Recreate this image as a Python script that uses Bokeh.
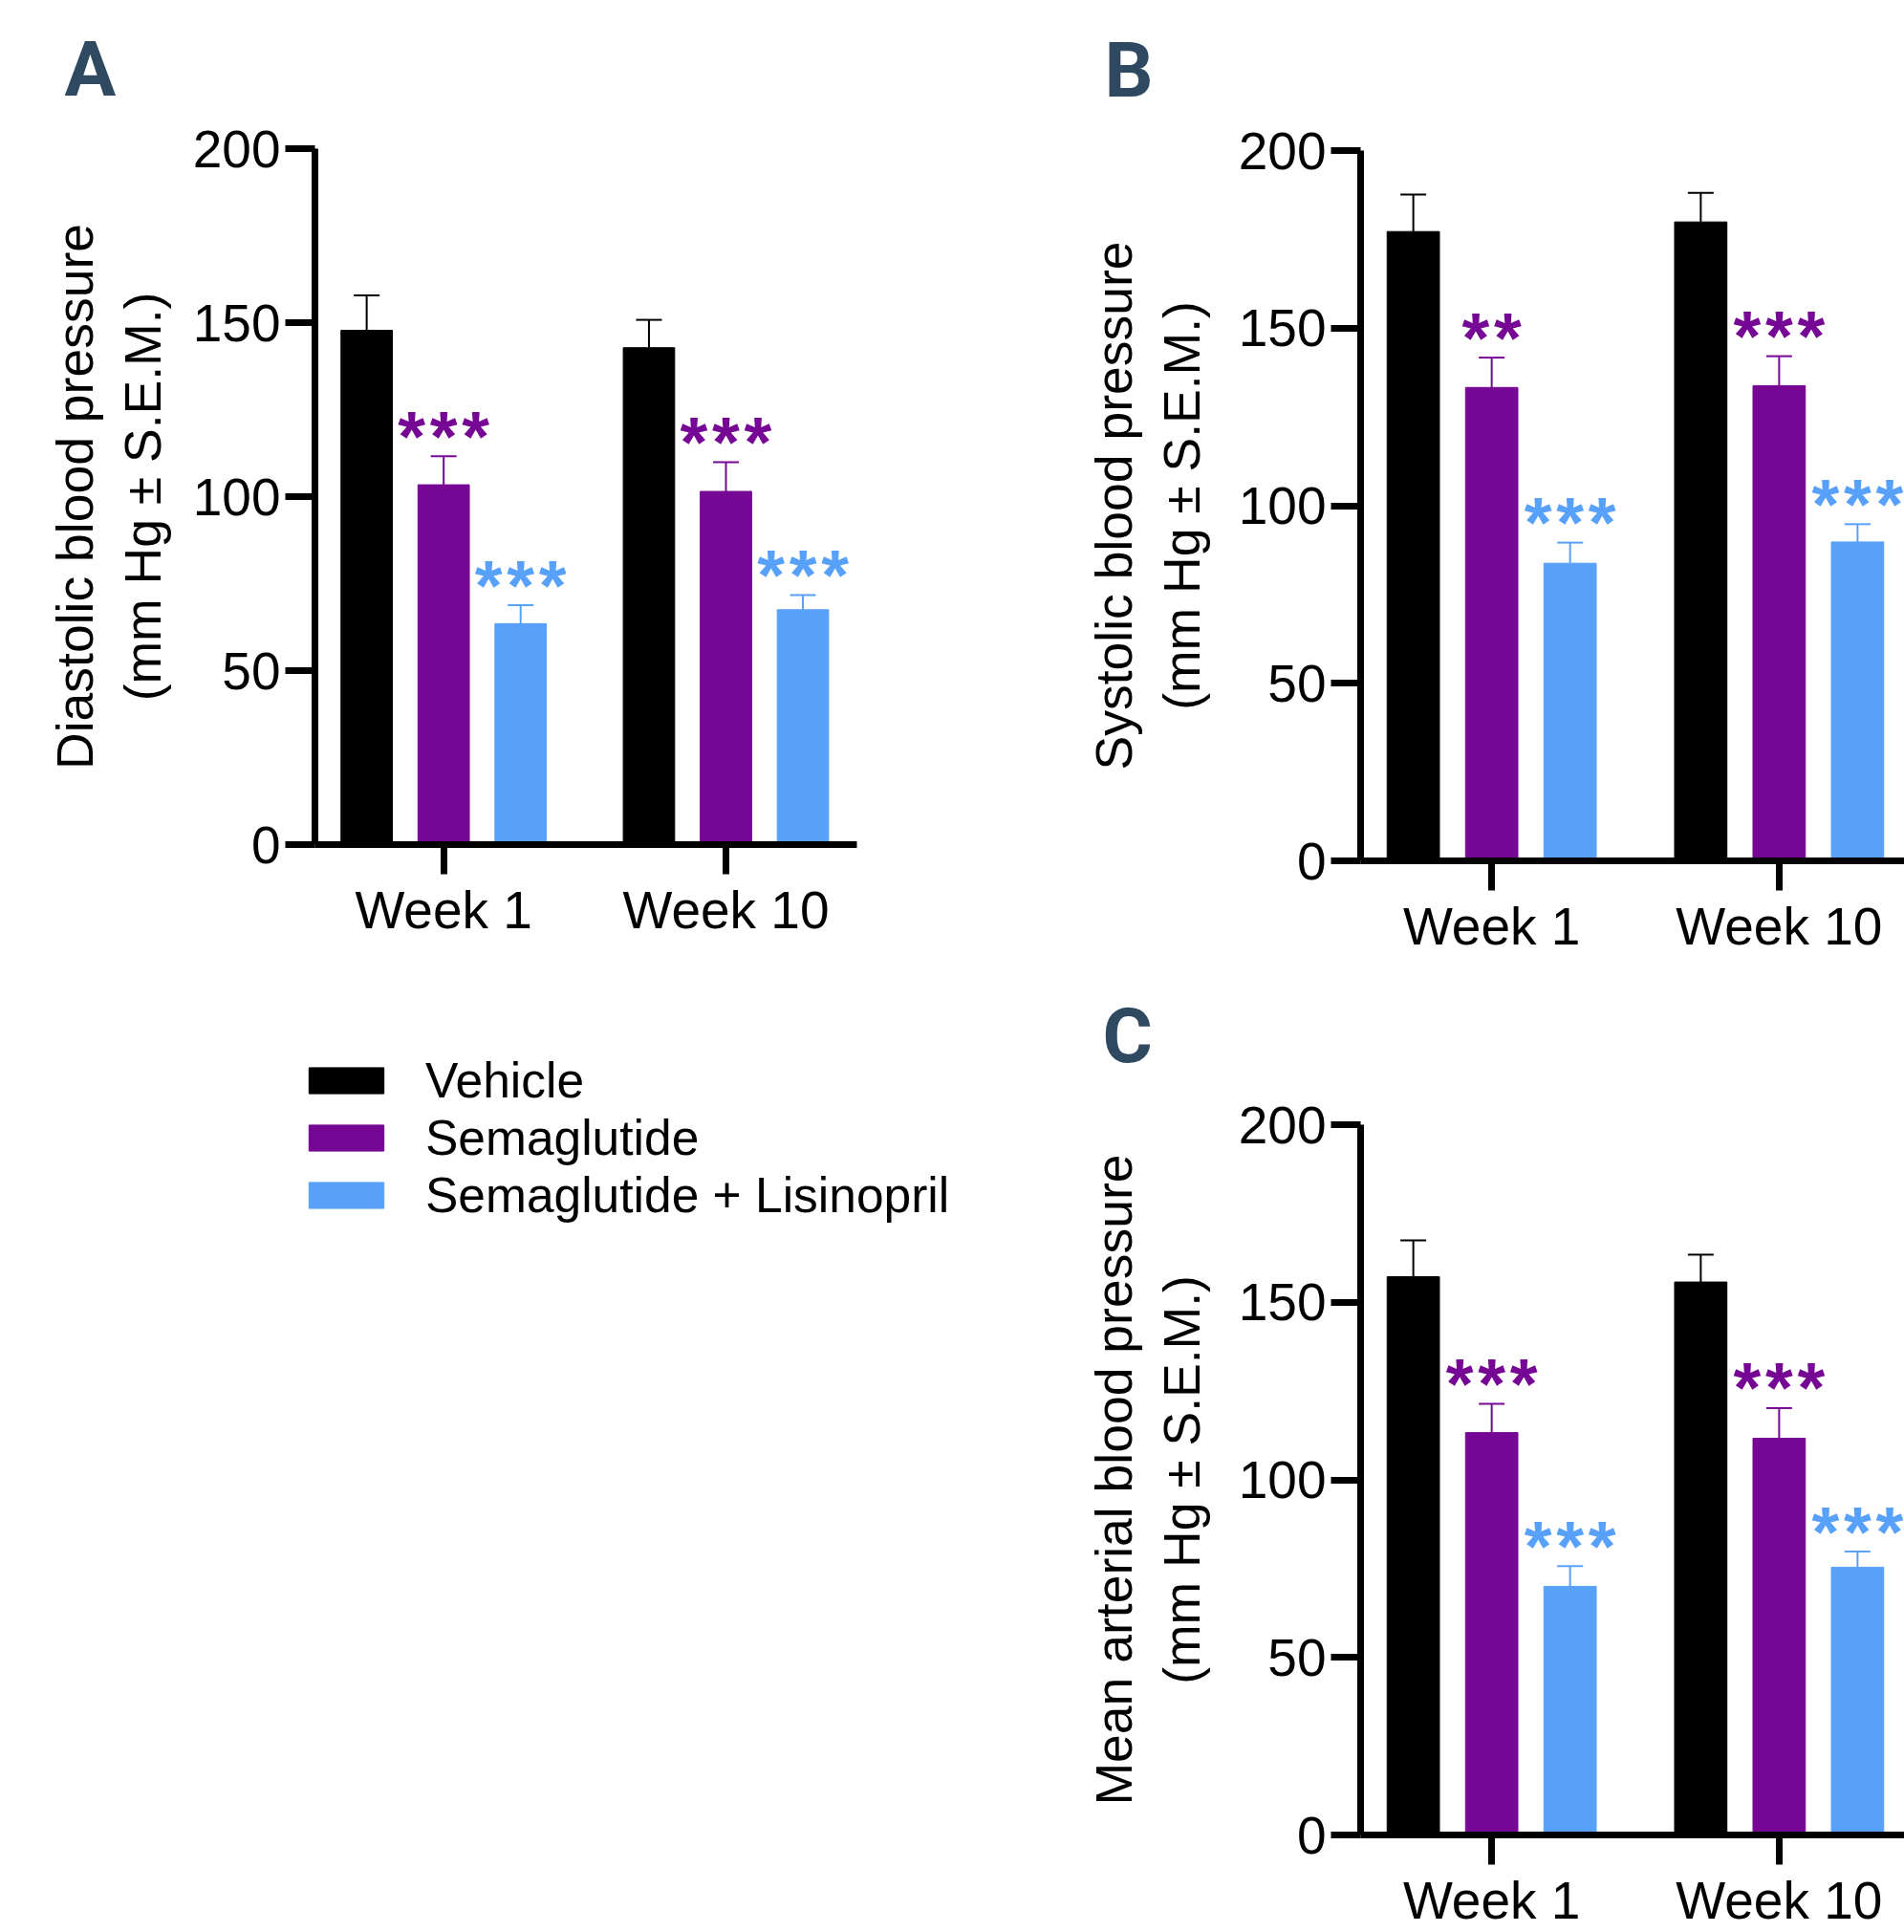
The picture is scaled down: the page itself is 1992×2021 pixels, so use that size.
from bokeh.plotting import figure
from bokeh.models import (Range1d, FixedTicker, ColumnDataSource, Whisker, TeeHead,
                          Label, Legend, LegendItem)
from bokeh.layouts import row, column
from bokeh.embed import file_html
from bokeh.resources import INLINE
from bokeh.core.properties import value

# ---------------- data ----------------
weeks = ["Week 1", "Week 10"]
groups = ["Vehicle", "Semaglutide", "Semaglutide + Lisinopril"]
colors = ["#000000", "#760795", "#58A1FB"]
y_ticks = [0, 50, 100, 150, 200]

# A: diastolic
dia_vehicle = [147.8, 142.8]
dia_vehicle_sem = [10.0, 8.0]
dia_sema = [103.4, 101.5]
dia_sema_sem = [8.2, 8.4]
dia_lisi = [63.5, 67.5]
dia_lisi_sem = [5.3, 4.2]
dia_sema_stars = ["***", "***"]
dia_lisi_stars = ["***", "***"]

# B: systolic
sys_vehicle = [177.2, 179.9]
sys_vehicle_sem = [10.4, 8.2]
sys_sema = [133.3, 133.8]
sys_sema_sem = [8.4, 8.3]
sys_lisi = [83.8, 89.8]
sys_lisi_sem = [5.8, 5.0]
sys_sema_stars = ["**", "***"]
sys_lisi_stars = ["***", "***"]

# C: mean arterial
map_vehicle = [157.2, 155.7]
map_vehicle_sem = [10.2, 7.7]
map_sema = [113.3, 111.7]
map_sema_sem = [8.1, 8.5]
map_lisi = [70.0, 75.4]
map_lisi_sem = [5.7, 4.4]
map_sema_stars = ["***", "***"]
map_lisi_stars = ["***", "***"]

FONT = "Liberation Sans"
LETTER_COLOR = "#2F4960"
BAR_W = 0.182
OFFS = [-0.2727, 0.0, 0.2727]
X_START = 0.544
STAR_PITCH = 33.5


def no_align(p):
    if "frame_align" in p.properties():
        p.frame_align = False


def make_panel(width, height, mbl, mbr, mbt, mbb, x_end, ylabel, lab_standoff,
               means, sems, stars, letter, lx, ly):
    p = figure(width=width, height=height,
               x_range=Range1d(X_START, x_end), y_range=Range1d(0, 200),
               output_backend="svg", toolbar_location=None,
               min_border_left=mbl, min_border_right=mbr,
               min_border_top=mbt, min_border_bottom=mbb)
    no_align(p)
    p.xgrid.visible = False
    p.ygrid.visible = False
    p.outline_line_color = None
    p.background_fill_color = "white"
    p.border_fill_color = "white"

    for i, col in enumerate(colors):
        xs = [k + 1 + OFFS[i] for k in range(len(weeks))]
        up = [m + s for m, s in zip(means[i], sems[i])]
        src = ColumnDataSource(dict(x=xs, top=means[i], upper=up, lower=means[i]))
        p.vbar(x="x", top="top", width=BAR_W, source=src,
               fill_color=col, line_color=col, line_width=1)
        w = Whisker(base="x", upper="upper", lower="lower", source=src,
                    dimension="height", line_color=col, line_width=2,
                    upper_head=TeeHead(size=27, line_color=col, line_width=2),
                    lower_head=None)
        p.add_layout(w)
        if stars[i] is not None:
            sx, sy, soff, stxt = [], [], [], []
            for xv, uv, s in zip(xs, up, stars[i]):
                n = len(s)
                for j, ch in enumerate(s):
                    sx.append(xv)
                    sy.append(uv)
                    soff.append((j - (n - 1) / 2.0) * STAR_PITCH)
                    stxt.append(ch)
            ssrc = ColumnDataSource(dict(x=sx, y=sy, xo=soff, t=stxt))
            p.text(x="x", y="y", text="t", x_offset="xo", source=ssrc,
                   text_color=col, text_font=value(FONT),
                   text_font_style="bold",
                   text_font_size="74px", text_align="center",
                   text_baseline="alphabetic", y_offset=-21)

    for ax in (p.xaxis[0], p.yaxis[0]):
        ax.axis_line_width = 7
        ax.axis_line_color = "black"
        ax.major_tick_line_width = 7
        ax.major_tick_line_color = "black"
        ax.major_tick_out = 31
        ax.major_tick_in = 0
        ax.minor_tick_line_color = None
        ax.major_label_text_font = FONT
        ax.major_label_text_color = "black"

    p.yaxis.ticker = FixedTicker(ticks=y_ticks)
    p.yaxis.major_label_text_font_size = "55px"
    p.yaxis.major_label_standoff = 5
    p.yaxis.axis_label = ylabel
    p.yaxis.axis_label_text_font = FONT
    p.yaxis.axis_label_text_font_size = "53.5px"
    p.yaxis.axis_label_text_font_style = "normal"
    p.yaxis.axis_label_text_color = "black"
    p.yaxis.axis_label_standoff = lab_standoff

    p.xaxis.ticker = FixedTicker(ticks=[1, 2])
    p.xaxis.major_label_overrides = {1: weeks[0], 2: weeks[1]}
    p.xaxis.major_label_text_font_size = "55px"
    p.xaxis.major_label_standoff = 6

    p.add_layout(Label(x=lx, y=ly, x_units="screen", y_units="screen",
                       text=letter, text_font="Roboto", text_font_style="bold",
                       text_font_size="80px", text_color=LETTER_COLOR,
                       text_baseline="alphabetic", text_align="left"), "above")
    return p


pA = make_panel(1100, 1050, 329, 204, 155, 167, 2.4639,
                "Diastolic blood pressure\n(mm Hg ± S.E.M.)", 20,
                [dia_vehicle, dia_sema, dia_lisi],
                [dia_vehicle_sem, dia_sema_sem, dia_lisi_sem],
                [None, dia_sema_stars, dia_lisi_stars],
                "A", -262, 83)

pB = make_panel(892, 1020, 323, 0, 157, 120, 2.436,
                "Systolic blood pressure\n(mm Hg ± S.E.M.)", 27,
                [sys_vehicle, sys_sema, sys_lisi],
                [sys_vehicle_sem, sys_sema_sem, sys_lisi_sem],
                [None, sys_sema_stars, sys_lisi_stars],
                "B", -268, 84)

pC = make_panel(892, 1001, 323, 0, 156, 101, 2.436,
                "Mean arterial blood pressure\n(mm Hg ± S.E.M.)", 27,
                [map_vehicle, map_sema, map_lisi],
                [map_vehicle_sem, map_sema_sem, map_lisi_sem],
                [None, map_sema_stars, map_lisi_stars],
                "C", -270, 93)

# legend panel (legend proxies sit outside the visible range)
pL = figure(width=1100, height=971, x_range=Range1d(0, 1), y_range=Range1d(0, 1),
            output_backend="svg", toolbar_location=None,
            x_axis_type=None, y_axis_type=None,
            min_border_left=313, min_border_top=50, min_border_right=0,
            min_border_bottom=0)
no_align(pL)
pL.xgrid.visible = False
pL.ygrid.visible = False
pL.outline_line_color = None
rends = []
for c in colors:
    rends.append(pL.vbar(x=[-5], bottom=[-3], top=[-2], width=0.1,
                         fill_color=c, line_color=c))
leg = Legend(items=[LegendItem(label=g, renderers=[r]) for g, r in zip(groups, rends)],
             location="top_left", margin=0, padding=0, border_line_color=None,
             background_fill_alpha=0, label_text_font=FONT,
             label_text_font_size="51.5px", label_text_color="black",
             glyph_width=98, glyph_height=34, label_standoff=34, spacing=0)
pL.add_layout(leg)

layout = row(column(pA, pL), column(pB, pC))
open("out.html", "w").write(file_html(layout, INLINE))
